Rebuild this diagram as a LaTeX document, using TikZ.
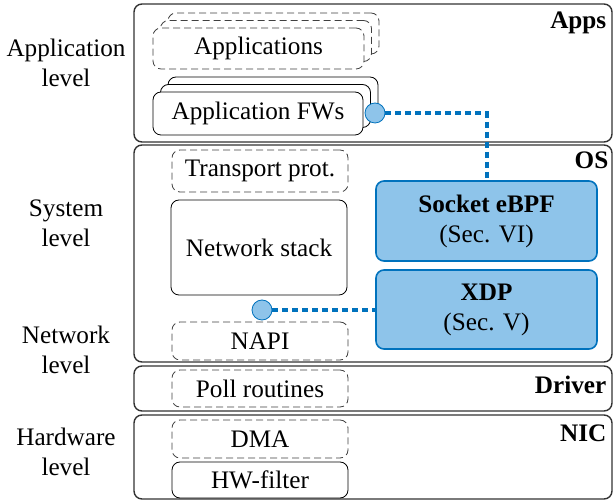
\documentclass[tikz,border=0pt]{standalone}
\usepackage{fontspec}
\setmainfont{Liberation Serif}
\usepackage{tikz}
\usetikzlibrary{positioning,calc}
\definecolor{ebpffill}{RGB}{142,196,234}
\definecolor{ebpfline}{RGB}{0,114,189}
\begin{document}
\begin{tikzpicture}[x=0.5pt,y=-0.5pt,font=\rmfamily\fontsize{12.6}{15}\selectfont]
\tikzstyle{layer} = [draw=black!80,line width=0.7pt,rounded corners=4pt,minimum width=239pt,inner sep=0pt]
\tikzstyle{mv} = [draw,fill=white,rounded corners=4pt,minimum width=88pt,inner sep=0pt]
\tikzstyle{dv} = [mv,draw=black!75,dash pattern=on 3.5pt off 2pt]
\tikzstyle{bgb} = [draw=ebpfline,fill=ebpffill,line width=0.8pt,rounded corners=4pt,minimum width=110.5pt,align=center,inner sep=0pt]
\tikzstyle{hook} = [circle,draw=ebpfline,fill=ebpffill,minimum size=10pt,inner sep=0pt]
\tikzstyle{link} = [ebpfline,line width=2pt,dash pattern=on 3pt off 2pt]
\tikzstyle{lvl} = [align=center]
\tikzstyle{tag} = [anchor=north east,font=\rmfamily\fontsize{12.6}{15}\selectfont\bfseries,inner sep=2pt]
\useasboundingbox (0,0) rectangle (615,501);
% layers
\node[layer,minimum height=69pt] (apps) at (373,73) {};
\node[layer,minimum height=108.5pt] (os) at (373,253.5) {};
\node[layer,minimum height=22.5pt] (drv) at (373,388.5) {};
\node[layer,minimum height=42pt] (nic) at (373,457) {};
\node[tag] at ($(apps.north east)+(-2,4)$) {Apps};
\node[tag] at ($(os.north east)+(0,3)$) {OS};
\node[tag] at ($(drv.north east)+(-2,6)$) {Driver};
\node[tag] at ($(nic.north east)+(-2,6)$) {NIC};
% levels
\node[lvl] (applvl) at (66,63) {Application\\level};
\node[lvl] (syslvl) at (66,223) {System\\level};
\node[lvl] (netlvl) at (66,350) {Network\\level};
\node[lvl] (hwlvl) at (66,452) {Hardware\\level};
% application stacks
\node[dv,minimum width=105.5pt,minimum height=20.5pt] (app3) at (273.5,33.5) {};
\node[dv,minimum width=105.5pt,minimum height=20.5pt] (app2) at (266,41) {};
\node[dv,minimum width=105.5pt,minimum height=20.5pt] (app1) at (258.5,48.5) {Applications};
\node[mv,minimum width=105pt,minimum height=21.5pt] (fw3) at (273,98.5) {};
\node[mv,minimum width=105pt,minimum height=21.5pt] (fw2) at (265.5,106) {};
\node[mv,minimum width=105pt,minimum height=21.5pt] (fw1) at (258,113.5) {Application FWs};
% kernel
\node[dv,minimum height=21pt] (tcp) at (260,171) {Transport prot.};
\node[mv,minimum height=47.5pt] (stack) at (259,247.5) {Network stack};
\node[dv,minimum height=19pt] (napi) at (260,341) {NAPI};
\node[dv,minimum height=18.5pt] (poll) at (260,388.5) {Poll routines};
\node[dv,minimum height=19pt] (dma) at (260,439) {DMA};
\node[mv,minimum height=18pt] (hwf) at (260,480) {HW-filter};
% eBPF hooks
\node[bgb,minimum height=40pt] (sock) at (486.5,221) {\textbf{Socket eBPF}\\(Sec. VI)};
\node[bgb,minimum height=39.5pt] (xdp) at (486.5,309.5) {\textbf{XDP}\\(Sec. V)};
\node[hook] (hfw) at (375,113) {};
\node[hook] (hstack) at (262,310) {};
\draw[link] (hfw) -| (sock.north);
\draw[link] (hstack) -- (hstack -| xdp.west);
\end{tikzpicture}
\end{document}
